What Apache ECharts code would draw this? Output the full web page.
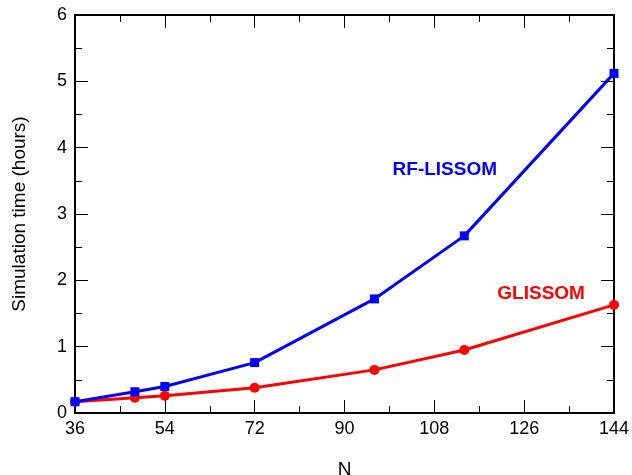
<!DOCTYPE html>
<html>
<head>
<meta charset="utf-8">
<script src="https://cdn.jsdelivr.net/npm/echarts@6/dist/echarts.min.js"></script>
<style>
  html, body { margin: 0; padding: 0; background: #fff; }
  #chart { width: 632px; height: 475px; }
</style>
</head>
<body>
<div id="chart"></div>
<script>
// N values and timings
var nValues = [36, 48, 54, 72, 96, 114, 144];
var rfLissom = [0.17, 0.32, 0.40, 0.76, 1.72, 2.67, 5.12];
var glissom = [0.17, 0.23, 0.26, 0.38, 0.65, 0.95, 1.63];
var xTicks = [36, 54, 72, 90, 108, 126, 144];
var yTicks = [0, 1, 2, 3, 4, 5, 6];

var FONT = '"Liberation Sans", Arial, sans-serif';

function pairs(xs, ys) {
  return xs.map(function (x, i) { return [x, ys[i]]; });
}

var myChart = echarts.init(document.getElementById('chart'));

// axis look shared by the four sides
var lineStyle = { color: '#000', width: 2 };
var tickStyle = { color: '#000', width: 1 };

function xAx(pos, labels) {
  return {
    type: 'value', position: pos,
    min: xTicks[0], max: xTicks[xTicks.length - 1], interval: 18,
    axisLine: { show: true, onZero: false, lineStyle: lineStyle },
    axisTick: { show: true, inside: true, length: 13, lineStyle: tickStyle },
    minorTick: { show: true, splitNumber: 2, length: 7, lineStyle: tickStyle },
    axisLabel: { show: labels, color: '#000', fontSize: 18, fontFamily: FONT, margin: 7 },
    splitLine: { show: false },
    name: labels ? 'N' : '',
    nameLocation: 'middle', nameGap: 47,
    nameTextStyle: { color: '#000', fontSize: 19, fontFamily: FONT, verticalAlign: 'top' }
  };
}
function yAx(pos, labels) {
  return {
    type: 'value', position: pos,
    min: yTicks[0], max: yTicks[yTicks.length - 1], interval: 1,
    axisLine: { show: true, onZero: false, lineStyle: lineStyle },
    axisTick: { show: true, inside: true, length: 13, lineStyle: tickStyle },
    minorTick: { show: true, splitNumber: 2, length: 7, lineStyle: tickStyle },
    axisLabel: { show: labels, color: '#000', fontSize: 18, fontFamily: FONT, margin: 8 },
    splitLine: { show: false },
    name: labels ? 'Simulation time (hours)' : '',
    nameLocation: 'middle', nameGap: 46,
    nameTextStyle: { color: '#000', fontSize: 19, fontFamily: FONT }
  };
}

option = {
  backgroundColor: '#fff',
  animation: false,
  grid: { left: 75, right: 18, top: 15, bottom: 62, outerBoundsMode: 'none', containLabel: false },
  xAxis: [xAx('bottom', true), xAx('top', false)],
  yAxis: [yAx('left', true), yAx('right', false)],
  series: [
    {
      name: 'RF-LISSOM', type: 'line',
      data: pairs(nValues, rfLissom),
      symbol: 'rect', symbolSize: 9,
      lineStyle: { color: '#0000ff', width: 3 },
      itemStyle: { color: '#0000ff' },
      z: 3
    },
    {
      name: 'GLISSOM', type: 'line',
      data: pairs(nValues, glissom),
      symbol: 'circle', symbolSize: 10,
      lineStyle: { color: '#ff0000', width: 3 },
      itemStyle: { color: '#ff0000' },
      z: 2
    }
  ]
};
myChart.setOption(option);

// series names written next to their curves
var p1 = myChart.convertToPixel({ gridIndex: 0 }, [110.1, 3.66]);
var p2 = myChart.convertToPixel({ gridIndex: 0 }, [129.4, 1.80]);
myChart.setOption({
  graphic: [
    { type: 'text', x: p1[0], y: p1[1],
      style: { text: 'RF-LISSOM', fill: '#0000ff', font: 'bold 19px ' + FONT, align: 'center', verticalAlign: 'middle' } },
    { type: 'text', x: p2[0], y: p2[1],
      style: { text: 'GLISSOM', fill: '#ff0000', font: 'bold 19px ' + FONT, align: 'center', verticalAlign: 'middle' } }
  ]
});
</script>
</body>
</html>
